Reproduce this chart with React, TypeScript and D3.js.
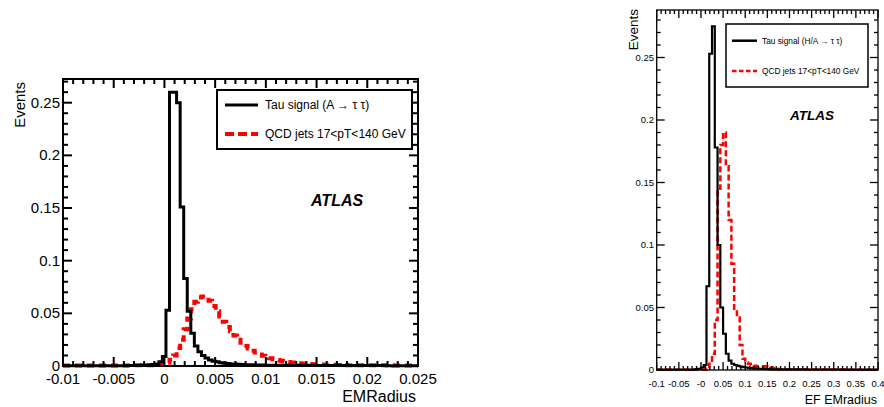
import React from 'react';
import * as d3 from 'd3';

// ---------- DATA ----------
// Left panel: EMRadius, 100 bins from -0.01 to 0.025
const leftRange = [-0.01, 0.025];
const leftTau = [
  0.0003, 0.0003, 0.0003, 0.0003, 0.0003, 0.0003, 0.0003, 0.0003, 0.0003, 0.0003,
  0.0003, 0.0003, 0.0003, 0.0003, 0.0003, 0.0003, 0.0003, 0.0003, 0.0005, 0.0005,
  0.0005, 0.0005, 0.001, 0.001, 0.001, 0.0015, 0.002, 0.004, 0.009, 0.053,
  0.26, 0.26, 0.25, 0.151, 0.083, 0.052, 0.031, 0.019, 0.0135, 0.01,
  0.0075, 0.0057, 0.0045, 0.004, 0.0032, 0.0027, 0.0023, 0.002, 0.0018, 0.0016,
  0.0014, 0.0013, 0.0012, 0.0011, 0.001, 0.0009, 0.0009, 0.0008, 0.0008, 0.0007,
  0.0007, 0.0006, 0.0006, 0.0006, 0.0006, 0.0006, 0.0006, 0.0006, 0.0006, 0.0006,
  0.0006, 0.0005, 0.0005, 0.0005, 0.0005, 0.0005, 0.0005, 0.0005, 0.0005, 0.0005,
  0.0005, 0.0004, 0.0004, 0.0004, 0.0004, 0.0004, 0.0004, 0.0004, 0.0004, 0.0004,
  0.0004, 0.0003, 0.0003, 0.0003, 0.0003, 0.0003, 0.0003, 0.0003, 0.0003, 0.0003,
];
const leftQcd = [
  0.0004, 0.0004, 0.0004, 0.0004, 0.0004, 0.0004, 0.0004, 0.0004, 0.0004, 0.0004,
  0.0004, 0.0004, 0.0004, 0.0004, 0.0004, 0.0004, 0.0004, 0.0004, 0.0004, 0.0004,
  0.0006, 0.0006, 0.0006, 0.0006, 0.0006, 0.0008, 0.001, 0.0012, 0.0018, 0.003,
  0.006, 0.01, 0.017, 0.025, 0.035, 0.045, 0.054, 0.061, 0.065, 0.066,
  0.065, 0.062, 0.057, 0.052, 0.047, 0.042, 0.037, 0.033, 0.029, 0.025,
  0.022, 0.019, 0.0165, 0.0145, 0.0128, 0.011, 0.0097, 0.0085, 0.0074, 0.0064,
  0.0056, 0.0049, 0.0043, 0.0038, 0.0033, 0.0029, 0.0026, 0.0023, 0.0021, 0.0019,
  0.0017, 0.0016, 0.0015, 0.0014, 0.0013, 0.0012, 0.0011, 0.001, 0.0009, 0.0009,
  0.0008, 0.0008, 0.0008, 0.0007, 0.0007, 0.0007, 0.0006, 0.0006, 0.0006, 0.0006,
  0.0006, 0.0006, 0.0006, 0.0005, 0.0005, 0.0005, 0.0005, 0.0005, 0.0005, 0.0005,
];
const leftXTicks = [-0.01, -0.005, 0, 0.005, 0.01, 0.015, 0.02, 0.025];
const leftXLabels = ['-0.01', '-0.005', '0', '0.005', '0.01', '0.015', '0.02', '0.025'];
const leftYTicks = [0, 0.05, 0.1, 0.15, 0.2, 0.25];
const leftYLabels = ['0', '0.05', '0.1', '0.15', '0.2', '0.25'];

// Right panel: EF EMradius, 80 bins from -0.1 to 0.4
const rightRange = [-0.1, 0.4];
const rightTau = [
  0.0003, 0.0003, 0.0003, 0.0003, 0.0003, 0.0003, 0.0003, 0.0003, 0.0003, 0.0003,
  0.0003, 0.0003, 0.0003, 0.0003, 0.0007, 0.001, 0.002, 0.004, 0.067, 0.253,
  0.275, 0.178, 0.1, 0.05, 0.029, 0.013, 0.0075, 0.005, 0.004, 0.0033,
  0.0028, 0.0023, 0.002, 0.0017, 0.0015, 0.0013, 0.0011, 0.001, 0.0009, 0.0008,
  0.0007, 0.0005, 0.0005, 0.0005, 0.0005, 0.0005, 0.0005, 0.0005, 0.0005, 0.0005,
  0.0005, 0.0005, 0.0005, 0.0005, 0.0004, 0.0004, 0.0004, 0.0004, 0.0004, 0.0004,
  0.0004, 0.0004, 0.0004, 0.0004, 0.0004, 0.0004, 0.0004, 0.0003, 0.0003, 0.0003,
  0.0003, 0.0003, 0.0003, 0.0003, 0.0003, 0.0003, 0.0003, 0.0003, 0.0003, 0.0003,
];
const rightQcd = [
  0.0003, 0.0003, 0.0003, 0.0003, 0.0003, 0.0003, 0.0003, 0.0003, 0.0003, 0.0003,
  0.0003, 0.0003, 0.0003, 0.0003, 0.0003, 0.0003, 0.0003, 0.0003, 0.001, 0.005,
  0.013, 0.04, 0.145, 0.18, 0.19, 0.163, 0.12, 0.085, 0.048, 0.042,
  0.02, 0.009, 0.006, 0.005, 0.004, 0.0035, 0.003, 0.003, 0.003, 0.0028,
  0.0025, 0.002, 0.0015, 0.001, 0.0005, 0.0005, 0.0005, 0.0005, 0.0005, 0.0005,
  0.0005, 0.0005, 0.0005, 0.0005, 0.0005, 0.0005, 0.0004, 0.0004, 0.0004, 0.0004,
  0.0004, 0.0004, 0.0004, 0.0004, 0.0004, 0.0004, 0.0004, 0.0004, 0.0003, 0.0003,
  0.0003, 0.0003, 0.0003, 0.0003, 0.0003, 0.0003, 0.0003, 0.0003, 0.0003, 0.0003,
];
const rightXTicks = [-0.1, -0.05, 0, 0.05, 0.1, 0.15, 0.2, 0.25, 0.3, 0.35, 0.4];
const rightXLabels = ['-0.1', '-0.05', '-0', '0.05', '0.1', '0.15', '0.2', '0.25', '0.3', '0.35', '0.4'];
const rightYTicks = [0, 0.05, 0.1, 0.15, 0.2, 0.25];
const rightYLabels = ['0', '0.05', '0.1', '0.15', '0.2', '0.25'];

const FONT = 'Liberation Sans, Arial, Helvetica, sans-serif';

function Histo({ values, range, x, y, stroke, width, dash }: any) {
  const n = values.length;
  const w = (range[1] - range[0]) / n;
  const pts: [number, number][] = values.map((v: number, i: number) => [range[0] + i * w, v]);
  pts.push([range[1], values[n - 1]]);
  const line = d3
    .line<[number, number]>()
    .x((d) => x(d[0]))
    .y((d) => y(d[1]))
    .curve(d3.curveStepAfter);
  return (
    <path
      d={line(pts) || ''}
      fill="none"
      stroke={stroke}
      strokeWidth={width}
      strokeDasharray={dash}
      strokeLinejoin="miter"
    />
  );
}

function Frame({ x, y, xMinorStep, yMinorStep, xMajor, yMajor, majLen, minLen, sw }: any) {
  const [xa, xb] = x.range();
  const [yb, ya] = y.range();
  const [dx0, dx1] = x.domain();
  const [, dy1] = y.domain();
  const isMaj = (v: number, arr: number[]) => arr.some((m) => Math.abs(m - v) < 1e-9);
  const xs: number[] = [];
  const nx = Math.round((dx1 - dx0) / xMinorStep);
  for (let i = 0; i <= nx; i++) xs.push(+(dx0 + i * xMinorStep).toFixed(6));
  const ys: number[] = [];
  for (let v = 0; v <= dy1 + 1e-9; v = +(v + yMinorStep).toFixed(6)) ys.push(v);
  const els: any[] = [];
  xs.forEach((v, i) => {
    const L = isMaj(v, xMajor) ? majLen : minLen;
    const px = x(v);
    els.push(<line key={'xb' + i} x1={px} x2={px} y1={yb} y2={yb - L} stroke="#000" strokeWidth={sw} />);
    els.push(<line key={'xt' + i} x1={px} x2={px} y1={ya} y2={ya + L} stroke="#000" strokeWidth={sw} />);
  });
  ys.forEach((v, i) => {
    const L = isMaj(v, yMajor) ? majLen : minLen;
    const py = y(v);
    els.push(<line key={'yl' + i} x1={xa} x2={xa + L} y1={py} y2={py} stroke="#000" strokeWidth={sw} />);
    els.push(<line key={'yr' + i} x1={xb} x2={xb - L} y1={py} y2={py} stroke="#000" strokeWidth={sw} />);
  });
  return (
    <g>
      {els}
      <rect x={xa} y={ya} width={xb - xa} height={yb - ya} fill="none" stroke="#000" strokeWidth={sw} />
    </g>
  );
}

export default function App() {
  // Left panel scales
  const xL = d3.scaleLinear().domain(leftRange).range([63, 418]);
  const yL = d3.scaleLinear().domain([0, 0.2725]).range([366, 79]);
  // Right panel scales
  const xR = d3.scaleLinear().domain(rightRange).range([656.7, 878]);
  const yR = d3.scaleLinear().domain([0, 0.288]).range([370, 10]);

  return (
    <svg
      width={884}
      height={407}
      viewBox="0 0 884 407"
      style={{ position: 'absolute', left: 0, top: 0, background: '#fff' }}
      fontFamily={FONT}
    >
      <rect x={0} y={0} width={884} height={407} fill="#fff" />

      {/* ---------------- LEFT PANEL ---------------- */}
      <Histo values={leftQcd} range={leftRange} x={xL} y={yL} stroke="#ff0000" width={4} dash="7,5" />
      <Histo values={leftTau} range={leftRange} x={xL} y={yL} stroke="#000" width={3} />
      <Frame
        x={xL}
        y={yL}
        xMinorStep={0.001}
        yMinorStep={0.01}
        xMajor={leftXTicks}
        yMajor={leftYTicks}
        majLen={9}
        minLen={5}
        sw={2}
      />
      {leftXTicks.map((v, i) => (
        <text key={'lx' + i} x={xL(v)} y={384} fontSize={15} textAnchor="middle">
          {leftXLabels[i]}
        </text>
      ))}
      {leftYTicks.map((v, i) => (
        <text key={'ly' + i} x={60} y={yL(v) + 5} fontSize={15} textAnchor="end">
          {leftYLabels[i]}
        </text>
      ))}
      <text x={416} y={402} fontSize={16} textAnchor="end">EMRadius</text>
      <text transform="translate(25,82) rotate(-90)" fontSize={15} textAnchor="end">Events</text>
      <rect x={217} y={90} width={195} height={59} fill="#fff" stroke="#000" strokeWidth={2} />
      <line x1={225} x2={258} y1={105} y2={105} stroke="#000" strokeWidth={3} />
      <text x={265} y={109} fontSize={12}>Tau signal (A → τ τ)</text>
      <line x1={225} x2={258} y1={134} y2={134} stroke="#ff0000" strokeWidth={4} strokeDasharray="9,4" />
      <text x={265} y={138} fontSize={12}>QCD jets 17&lt;pT&lt;140 GeV</text>
      <text x={311} y={206} fontSize={16} fontWeight="bold" fontStyle="italic">ATLAS</text>

      {/* ---------------- RIGHT PANEL ---------------- */}
      <Histo values={rightQcd} range={rightRange} x={xR} y={yR} stroke="#ff0000" width={2.5} dash="6,3" />
      <Histo values={rightTau} range={rightRange} x={xR} y={yR} stroke="#000" width={2.2} />
      <Frame
        x={xR}
        y={yR}
        xMinorStep={0.01}
        yMinorStep={0.01}
        xMajor={rightXTicks}
        yMajor={rightYTicks}
        majLen={8}
        minLen={4}
        sw={1.3}
      />
      {rightXTicks.map((v, i) => (
        <text key={'rx' + i} x={xR(v)} y={387} fontSize={9.5} textAnchor="middle">
          {rightXLabels[i]}
        </text>
      ))}
      {rightYTicks.map((v, i) => (
        <text key={'ry' + i} x={654} y={yR(v) + 3.4} fontSize={9.5} textAnchor="end">
          {rightYLabels[i]}
        </text>
      ))}
      <text x={877} y={404} fontSize={12.5} textAnchor="end">EF EMradius</text>
      <text transform="translate(638,9) rotate(-90)" fontSize={13.5} textAnchor="end">Events</text>
      <rect x={726} y={24} width={142} height={63} fill="#fff" stroke="#000" strokeWidth={1.5} />
      <line x1={732} x2={757} y1={40.7} y2={40.7} stroke="#000" strokeWidth={2.5} />
      <text x={762} y={43.6} fontSize={8.3}>Tau signal (H/A → τ τ)</text>
      <line x1={732} x2={757} y1={71} y2={71} stroke="#ff0000" strokeWidth={2.5} strokeDasharray="4.5,2.5" />
      <text x={762} y={74} fontSize={8.3}>QCD jets 17&lt;pT&lt;140 GeV</text>
      <text x={790} y={120} fontSize={13.5} fontWeight="bold" fontStyle="italic">ATLAS</text>
    </svg>
  );
}
